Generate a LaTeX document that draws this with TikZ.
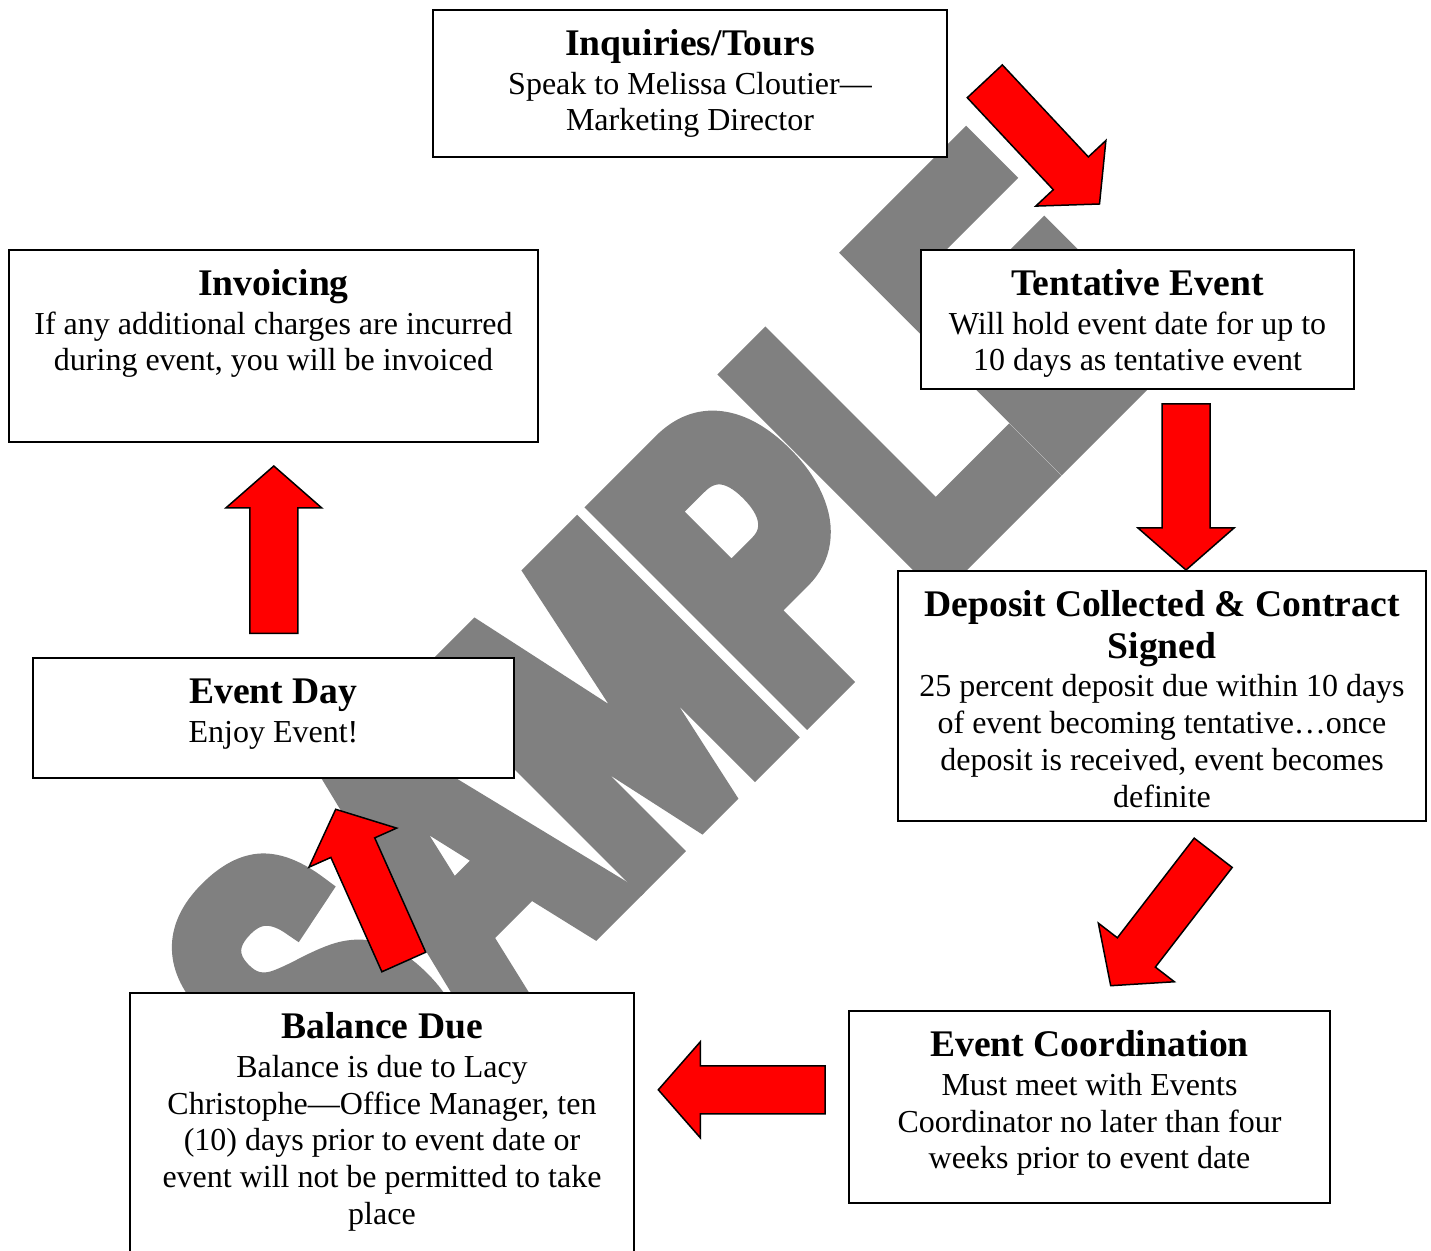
\documentclass[tikz,border=0pt]{standalone}
\usepackage{fontspec}
\setmainfont{Liberation Serif}
\newfontfamily\wmfont{Liberation Sans Bold}[FakeStretch=0.674,FakeBold=6.5]
\usetikzlibrary{calc}
\definecolor{wmgray}{HTML}{808080}
\definecolor{arrred}{HTML}{FF0000}
\newcommand\hd{\fontsize{18.8pt}{20.8pt}\selectfont\bfseries}
\newcommand\bd{\fontsize{16pt}{18.4pt}\selectfont\mdseries}
% one centred line of natural spacing
\newcommand\cenline[1]{\hbox to\hsize{\hss#1\hss}}
% width, first heading line, further heading lines, body lines
\newcommand\boxtext[4]{\vbox{\hsize=#1\relax\spaceskip=0pt\xspaceskip=0pt
  \hd\cenline{\rule{0pt}{15pt}#2}#3\vskip1pt\bd #4}}
% block arrow: name, tail centre, tip
\newcommand\blockarrow[3]{%
  \coordinate (#1-t) at #2;
  \coordinate (#1-p) at #3;
  \coordinate (#1-b) at ($(#1-p)!21pt!(#1-t)$);
  \draw[barrow] ($(#1-t)!12pt!90:(#1-p)$) -- ($(#1-b)!12pt!90:(#1-p)$)
    -- ($(#1-b)!24pt!90:(#1-p)$) -- (#1-p) -- ($(#1-b)!24pt!-90:(#1-p)$)
    -- ($(#1-b)!12pt!-90:(#1-p)$) -- ($(#1-t)!12pt!-90:(#1-p)$) -- cycle;}
\begin{document}
\begin{tikzpicture}[x=0.5pt,y=-0.5pt,
  card/.style={draw=black, line width=1pt, fill=white, rectangle, inner sep=0pt, outer sep=0pt},
  txt/.style={anchor=north, inner sep=0pt, font=\bd},
  barrow/.style={draw=black, fill=arrred, line width=0.75pt, line join=miter},
  wm/.style={text=wmgray, inner sep=0pt, font=\wmfont\fontsize{209pt}{209pt}\selectfont}]
\useasboundingbox (0,0) rectangle (1431,1251);
\fill[white] (0,0) rectangle (1431,1251);
\clip (0,0) rectangle (1431,1251);

% watermark
\node[wm, rotate=45, anchor=base] (wmark) at (766.2,751.6) {SAMPLE};

% boxes
\node[card, minimum width=257pt, minimum height=73.5pt] (inq) at (690,83.5) {};
\node[card, minimum width=216.5pt, minimum height=69.5pt] (ten) at (1137.5,319.5) {};
\node[card, minimum width=264.5pt, minimum height=96pt] (inv) at (273.5,346) {};
\node[card, minimum width=264pt, minimum height=125pt] (dep) at (1162,696) {};
\node[card, minimum width=240.5pt, minimum height=60pt] (day) at (273.5,718) {};
\node[card, minimum width=252pt, minimum height=136pt] (bal) at (382,1129) {};
\node[card, minimum width=240.5pt, minimum height=96pt] (coo) at (1089.5,1107) {};

% texts
\node[txt] (inq-text) at (690,25)
  {\boxtext{255pt}{Inquiries/Tours}{}{\cenline{Speak to Melissa Cloutier—}\cenline{Marketing Director}}};
\node[txt] (ten-text) at (1137.5,265)
  {\boxtext{214pt}{Tentative Event}{}{\cenline{Will hold event date for up to}\cenline{10 days as tentative event}}};
\node[txt] (inv-text) at (273.5,265)
  {\boxtext{262pt}{Invoicing}{}{\cenline{If any additional charges are incurred}\cenline{during event, you will be invoiced}}};
\node[txt] (dep-text) at (1162,586)
  {\boxtext{262pt}{Deposit Collected \& Contract}{\cenline{Signed}}{\cenline{25 percent deposit due within 10 days}\cenline{of event becoming tentative…once}\cenline{deposit is received, event becomes}\cenline{definite}}};
\node[txt] (day-text) at (273.5,673)
  {\boxtext{238pt}{Event Day}{}{\cenline{Enjoy Event!}}};
\node[txt] (bal-text) at (382,1008)
  {\boxtext{250pt}{Balance Due}{}{\cenline{Balance is due to Lacy}\cenline{Christophe—Office Manager, ten}\cenline{(10) days prior to event date or}\cenline{event will not be permitted to take}\cenline{place}}};
\node[txt] (coo-text) at (1089.5,1026)
  {\boxtext{238pt}{Event Coordination}{}{\cenline{Must meet with Events}\cenline{Coordinator no later than four}\cenline{weeks prior to event date}}};

% arrows
\blockarrow{a1}{(984.8,81.3)}{(1099.5,204)}
\blockarrow{a2}{(1186,404)}{(1186,570)}
\blockarrow{a3}{(1213.2,852.8)}{(1110.7,985.7)}
\blockarrow{a4}{(825,1089.8)}{(658.3,1089.8)}
\blockarrow{a5}{(403.8,962)}{(335.7,809.3)}
\blockarrow{a6}{(273.8,633.3)}{(273.8,466)}
\end{tikzpicture}
\end{document}
